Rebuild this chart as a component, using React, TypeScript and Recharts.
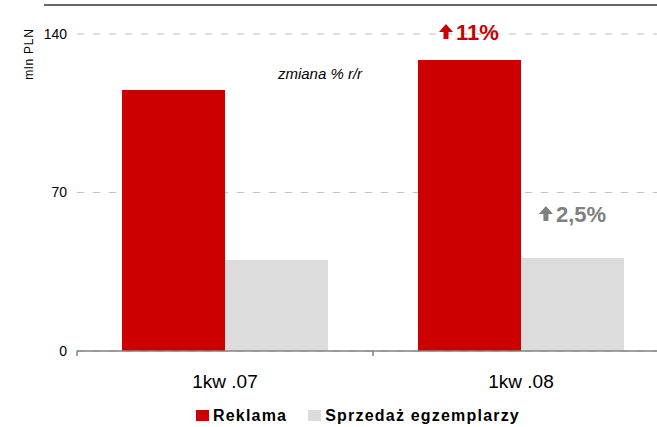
import React from "react";
import { BarChart, Bar, XAxis, YAxis, CartesianGrid, Legend, LabelList } from "recharts";

const categories = ["1kw .07", "1kw .08"];
const reklama = [115.3, 128.5];
const sprzedaz = [40.2, 41.1];
const reklamaChange = ["", "11%"];
const sprzedazChange = ["", "2,5%"];
const yTicks = [0, 70, 140];

const RED = "#CC0000";
const GREY = "#DCDCDC";
const FONT = "'Liberation Sans', Arial, sans-serif";

const data = categories.map((name, i) => ({
  name,
  reklama: reklama[i],
  sprzedaz: sprzedaz[i],
  reklamaChange: reklamaChange[i],
  sprzedazChange: sprzedazChange[i],
}));

// rough Arial Bold advance widths, good enough to centre arrow + text
const CHAR_W: Record<string, number> = { "%": 0.889, ",": 0.278, ".": 0.278 };
const textWidth = (s: string, fs: number) =>
  s.split("").reduce((w, c) => w + (CHAR_W[c] ?? 0.556), 0) * fs;

function makeChangeLabel(color: string, lift: number) {
  return (props: any) => {
    const { x, y, width, value } = props;
    if (!value) return null;
    const fs = 22;
    const arrowW = 14;
    const gap = 3;
    const total = arrowW + gap + textWidth(String(value), fs);
    const left = Number(x) + Number(width) / 2 - total / 2;
    const base = Number(y) - lift;
    const ax = left + arrowW / 2;
    const top = base - 16;
    const d = `M${ax} ${top} L${left + arrowW} ${top + 8} L${ax + 2.5} ${top + 8} L${ax + 2.5} ${base - 1} L${ax - 2.5} ${base - 1} L${ax - 2.5} ${top + 8} L${left} ${top + 8} Z`;
    return (
      <g>
        <path d={d} fill={color} />
        <text x={left + arrowW + gap} y={base} fill={color} fontSize={fs} fontWeight="bold" fontFamily={FONT}>
          {value}
        </text>
      </g>
    );
  };
}

const CategoryTick = (props: any) => {
  const { x, y, payload } = props;
  const edge = x - (payload.offset ?? 0);
  return (
    <g>
      <line x1={edge} y1={y} x2={edge} y2={y + 5} stroke="#808080" strokeWidth={1.5} />
      <text x={x} y={y + 37} textAnchor="middle" fontSize={19} fontFamily={FONT} fill="#000">
        {payload.value}
      </text>
    </g>
  );
};

const LegendContent = (props: any) => {
  const { payload } = props;
  return (
    <div style={{ height: 30, display: "flex", alignItems: "flex-end", paddingLeft: 196, paddingBottom: 4, boxSizing: "border-box" }}>
      {(payload || []).map((entry: any) => (
        <div key={entry.value} style={{ display: "flex", alignItems: "center", marginRight: 21 }}>
          <span style={{ width: 13, height: 11, background: entry.color, marginRight: 4, display: "inline-block" }} />
          <span style={{ fontFamily: FONT, fontWeight: "bold", fontSize: 16, letterSpacing: 1.2, color: "#000", lineHeight: "15px" }}>
            {entry.value}
          </span>
        </div>
      ))}
    </div>
  );
};

export default function App() {
  return (
    <div style={{ position: "absolute", left: 0, top: 0, width: 657, height: 427, overflow: "hidden", background: "#fff" }}>
      <div style={{ position: "absolute", left: 44, top: 4, right: 0, height: 2, background: "#666" }} />
      <BarChart width={669} height={427} data={data} margin={{ top: 34, right: 0, bottom: 0, left: 0 }} barGap={0} barSize={103}>
        <CartesianGrid vertical={false} stroke="#C0C0C0" strokeDasharray="7 9" />
        <XAxis
          dataKey="name"
          height={46}
          axisLine={{ stroke: "#808080", strokeWidth: 1.5 }}
          tickLine={false}
          tickSize={0}
          tickMargin={0}
          tick={<CategoryTick />}
          interval={0}
        />
        <YAxis
          width={77}
          domain={[0, 140]}
          ticks={yTicks}
          axisLine={false}
          tickLine={false}
          tickSize={0}
          tickMargin={10}
          tick={{ fontSize: 14, fill: "#000", fontFamily: FONT }}
        />
        <Legend verticalAlign="bottom" align="left" content={<LegendContent />} />
        <Bar dataKey="reklama" name="Reklama" fill={RED} isAnimationActive={false}>
          <LabelList dataKey="reklamaChange" content={makeChangeLabel(RED, 20)} />
        </Bar>
        <Bar dataKey="sprzedaz" name="Sprzedaż egzemplarzy" fill={GREY} isAnimationActive={false}>
          <LabelList dataKey="sprzedazChange" content={makeChangeLabel("#808080", 36)} />
        </Bar>
      </BarChart>
      <svg width={657} height={427} style={{ position: "absolute", left: 0, top: 0, pointerEvents: "none" }}>
        <text x={29} y={54} transform="rotate(-90 29 54)" textAnchor="middle" dominantBaseline="central" fontSize={12} letterSpacing={0.8} fontFamily={FONT} fill="#000">
          mln PLN
        </text>
        <text x={320} y={79} textAnchor="middle" fontSize={15} fontStyle="italic" fontFamily={FONT} fill="#000">
          zmiana % r/r
        </text>
      </svg>
    </div>
  );
}
